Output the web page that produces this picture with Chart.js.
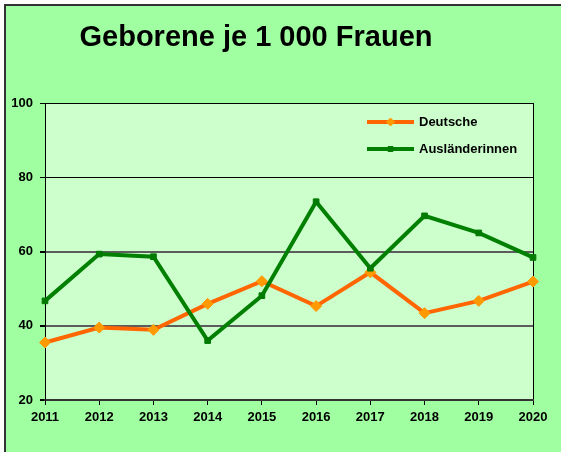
<!DOCTYPE html>
<html>
<head>
<meta charset="utf-8">
<script src="https://cdn.jsdelivr.net/npm/chart.js@4.4.1/dist/chart.umd.min.js"></script>
<style>
html, body { margin: 0; padding: 0; background: #fff; overflow: hidden; }
#frame { position: absolute; left: 4px; top: 4px; width: 600px; height: 500px; border: 2px solid #333; background: #a0ffa0; }
#chart { position: absolute; left: 0; top: 0; }
</style>
</head>
<body>
<div id="frame"></div>
<canvas id="chart" width="561" height="452"></canvas>
<script>
const chartTitle = 'Geborene je 1 000 Frauen';
const years = ['2011', '2012', '2013', '2014', '2015', '2016', '2017', '2018', '2019', '2020'];
const deutsche = [35.5, 39.5, 38.9, 45.9, 52.0, 45.3, 54.4, 43.4, 46.7, 51.9];
const auslaenderinnen = [46.7, 59.3, 58.6, 36.0, 48.1, 73.4, 55.5, 69.6, 65.0, 58.4];
const yTicks = [20, 40, 60, 80, 100];

const FONT = '"Liberation Sans", Arial, sans-serif';
Chart.defaults.font.family = FONT;
Chart.defaults.color = '#000';

// light green fill behind the plot
const plotBg = {
  id: 'plotBg',
  beforeDraw(chart) {
    const a = chart.chartArea, c = chart.ctx;
    c.save();
    c.fillStyle = '#ccffcc';
    c.fillRect(a.left, a.top, a.right - a.left, a.bottom - a.top);
    c.restore();
  }
};

// title on top and the legend inside the plot (top right)
const header = {
  id: 'header',
  afterDraw(chart, args, opts) {
    const c = chart.ctx;
    c.save();
    c.fillStyle = '#000';
    c.font = 'bold 29px ' + FONT;
    c.textAlign = 'center';
    c.textBaseline = 'middle';
    c.fillText(chartTitle, opts.titleX, opts.titleY);

    chart.data.datasets.forEach((ds, i) => {
      const y = opts.legendY + i * opts.legendGap;
      const x = opts.legendX;
      c.strokeStyle = ds.borderColor;
      c.lineWidth = ds.borderWidth;
      c.beginPath();
      c.moveTo(x, y);
      c.lineTo(x + opts.lineLen, y);
      c.stroke();
      c.fillStyle = ds.pointBackgroundColor;
      c.strokeStyle = ds.pointBorderColor;
      c.lineWidth = 1;
      Chart.helpers.drawPoint(c, {pointStyle: ds.pointStyle, radius: ds.legendRadius, rotation: 0, borderWidth: 1}, x + opts.lineLen / 2, y);
      c.fillStyle = '#000';
      c.font = 'bold 13px ' + FONT;
      c.textAlign = 'left';
      c.fillText(ds.label, x + opts.lineLen + 5, y);
    });
    c.restore();
  }
};

new Chart(document.getElementById('chart'), {
  type: 'line',
  data: {
    labels: years,
    datasets: [
      {
        label: 'Deutsche',
        data: deutsche,
        borderColor: '#ff6600',
        borderWidth: 4,
        pointStyle: 'rectRot',
        pointRadius: 5.5,
        legendRadius: 4,
        pointBackgroundColor: '#ff9900',
        pointBorderColor: '#ff9900',
        pointBorderWidth: 1,
        tension: 0,
        order: 1
      },
      {
        label: 'Ausländerinnen',
        data: auslaenderinnen,
        borderColor: '#007f00',
        borderWidth: 4,
        pointStyle: 'rect',
        pointRadius: 4,
        legendRadius: 3.5,
        pointBackgroundColor: '#007a00',
        pointBorderColor: '#007a00',
        pointBorderWidth: 1,
        tension: 0,
        order: 0
      }
    ]
  },
  options: {
    responsive: false,
    animation: false,
    devicePixelRatio: 1,
    layout: { padding: { top: 103, left: 0, right: 28, bottom: 0 } },
    scales: {
      x: {
        grid: {
          color: ctx => ctx.index === years.length - 1 ? '#000' : 'rgba(0,0,0,0)',
          tickColor: '#000',
          tickLength: 5
        },
        border: { color: '#333', width: 2 },
        ticks: { font: { size: 13, weight: 'bold' }, padding: 5, maxRotation: 0, autoSkip: false },
        afterFit(s) { s.height = 52; s.paddingLeft = 0; s.paddingRight = 0; }
      },
      y: {
        min: 20,
        max: 100,
        afterBuildTicks(s) { s.ticks = yTicks.map(v => ({ value: v })); },
        grid: {
          color: ctx => (ctx.tick && ctx.tick.value >= 80) ? '#000' : '#5c5c5c',
          lineWidth: ctx => (ctx.tick && ctx.tick.value >= 80) ? 1 : 2,
          tickColor: '#000',
          tickLength: 5
        },
        border: { color: '#000', width: 1 },
        ticks: { font: { size: 13, weight: 'bold' }, padding: 7 },
        afterFit(s) { s.width = 45; s.paddingTop = 0; s.paddingBottom = 0; }
      }
    },
    plugins: {
      legend: { display: false },
      title: { display: false },
      tooltip: { enabled: false },
      header: { titleX: 256, titleY: 38, legendX: 367, legendY: 122, legendGap: 27, lineLen: 47 }
    }
  },
  plugins: [plotBg, header]
});
</script>
</body>
</html>
